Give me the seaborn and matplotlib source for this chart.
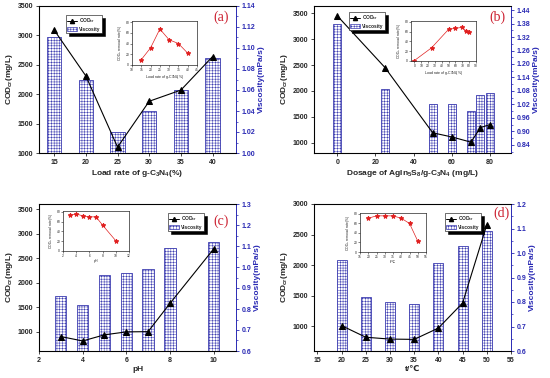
import matplotlib
matplotlib.use("Agg")
import matplotlib.pyplot as plt
import seaborn as sns
from matplotlib.lines import Line2D
from matplotlib.patches import Patch
from matplotlib.ticker import MultipleLocator, AutoMinorLocator, FormatStrFormatter

# (a) load rate of g-C3N4
load_rate = [15, 20, 25, 30, 35, 40]
cod_a = [3090, 2310, 1100, 1880, 2070, 2640]
visc_a = [1.11, 1.07, 1.02, 1.04, 1.06, 1.09]
removal_a = [10, 32, 67, 47, 40, 22]

# (b) dosage of AgIn5S8/g-C3N4
dosage = [0, 25, 50, 60, 70, 75, 80]
cod_b = [3450, 2450, 1190, 1110, 1010, 1290, 1350]
visc_b = [1.38, 1.09, 1.02, 1.02, 0.99, 1.06, 1.07]
removal_b = [1, 27, 65, 67, 69, 62, 60]

# (c) pH
ph = [3, 4, 5, 6, 7, 8, 10]
cod_c = [905, 815, 940, 1000, 1005, 1580, 2690]
visc_c = [0.86, 0.82, 0.96, 0.97, 0.99, 1.09, 1.12]
removal_c = [73, 76, 72, 70, 70, 53, 21]

# (d) temperature
temp = [20, 25, 30, 35, 40, 45, 50]
cod_d = [1010, 820, 790, 785, 970, 1380, 2660]
visc_d = [0.97, 0.82, 0.80, 0.79, 0.96, 1.03, 1.09]
removal_d = [71, 76, 76, 76, 71, 60, 23]

sns.set_style("ticks")
plt.rcParams["font.family"] = ["Liberation Sans", "DejaVu Sans"]
plt.rcParams["mathtext.default"] = "regular"
plt.rcParams["hatch.linewidth"] = 0.35
BLUE = "#2a2ab4"
EDGE = "#3b3bb0"
plt.rcParams["hatch.color"] = EDGE

W, H = 550, 378
fig = plt.figure(figsize=(5.5, 3.78), dpi=100)


def box(x0, y0, x1, y1):
    return [x0 / W, 1 - y1 / H, (x1 - x0) / W, (y1 - y0) / H]


def panel(rect, x, cod, visc, removal, bar_w, xlim, xticks, cod_lim, cod_ticks,
          v_lim, v_step, v_fmt, xlabel, inset_rect, inset_xlim, inset_step,
          inset_xlabel, leg_xy, tag, tag_xy):
    ax = fig.add_axes(box(*rect))
    ax2 = ax.twinx()
    ax.set_zorder(ax2.get_zorder() + 1)
    ax.patch.set_visible(False)

    sns.barplot(x=x, y=visc, native_scale=True, width=bar_w, color="white",
                edgecolor=EDGE, hatch="++++++", linewidth=0.6, errorbar=None,
                saturation=1, ax=ax2)
    sns.lineplot(x=x, y=cod, color="black", marker="^", markersize=4.5,
                 markeredgecolor="black", linewidth=0.8, ax=ax)

    ax.set_xlim(*xlim)
    ax.set_xticks(xticks)
    ax.set_ylim(*cod_lim)
    ax.set_yticks(cod_ticks)
    ax2.set_ylim(*v_lim)
    ax2.yaxis.set_major_locator(MultipleLocator(v_step))
    ax2.yaxis.set_minor_locator(AutoMinorLocator(2))
    ax2.yaxis.set_major_formatter(FormatStrFormatter(v_fmt))

    ax.tick_params(labelsize=5, width=0.6, length=2.5, direction="out", pad=1.5)
    for lab in ax.get_xticklabels() + ax.get_yticklabels():
        lab.set_fontweight("bold")
    ax2.tick_params(axis="y", labelsize=5, colors=BLUE, width=0.6, length=2.5, pad=1.5)
    ax2.tick_params(axis="y", which="minor", colors=BLUE, width=0.5, length=1.5)
    for lab in ax2.get_yticklabels():
        lab.set_fontweight("bold")

    for s in ax.spines.values():
        s.set_linewidth(0.7)
        s.set_color("black")
    ax.spines["right"].set_visible(False)
    ax2.spines["right"].set_color(BLUE)
    ax2.spines["right"].set_linewidth(0.7)

    ax.set_xlabel(xlabel, fontsize=6, fontweight="bold", labelpad=2)
    ax.set_ylabel("COD$_{cr}$(mg/L)", fontsize=6, fontweight="bold", labelpad=2)
    ax2.set_ylabel("Viscosity(mPa/s)", fontsize=6, fontweight="bold", color=BLUE,
                   labelpad=2)

    handles = [Line2D([], [], color="black", marker="^", markersize=3, lw=0.7),
               Patch(facecolor="white", edgecolor=EDGE, hatch="++++++", lw=0.5)]
    leg = ax.legend(handles, ["COD$_{cr}$", "Viscosity"], loc="upper left",
                    bbox_to_anchor=(leg_xy[0] / W, 1 - leg_xy[1] / H),
                    bbox_transform=fig.transFigure, fontsize=3.5, frameon=True,
                    fancybox=False, edgecolor="black", framealpha=1,
                    shadow={"color": "black", "alpha": 1}, handlelength=2,
                    handleheight=0.8, borderpad=0.3, labelspacing=0.3,
                    handletextpad=0.4, borderaxespad=0)
    leg.get_frame().set_linewidth(0.4)
    for t in leg.get_texts():
        t.set_fontweight("bold")

    fig.text(tag_xy[0] / W, 1 - tag_xy[1] / H, tag, color="#cc2030", fontsize=10,
             family=["Liberation Serif", "DejaVu Serif"], ha="center", va="center")

    ins = fig.add_axes(box(*inset_rect))
    ins.set_zorder(ax.get_zorder() + 1)
    sns.lineplot(x=x, y=removal, color="#e02020", marker="*", markersize=3.2,
                 markeredgecolor="#e02020", linewidth=0.5, ax=ins)
    ins.set_xlim(*inset_xlim)
    ins.xaxis.set_major_locator(MultipleLocator(inset_step))
    ins.set_ylim(0, 82)
    ins.set_yticks([0, 20, 40, 60, 80])
    ins.tick_params(labelsize=2.4, width=0.4, length=1.2, pad=0.8)
    for s in ins.spines.values():
        s.set_linewidth(0.5)
    ins.set_xlabel(inset_xlabel, fontsize=2.6, labelpad=1)
    ins.set_ylabel("COD$_{cr}$ removal rate(%)", fontsize=2.4, labelpad=1)


panel((39, 6, 236, 153), load_rate, cod_a, visc_a, removal_a, 0.45,
      (12.6, 43.7), load_rate, (1000, 3500), range(1000, 3501, 500),
      (1.0, 1.14), 0.02, "%.2f", "Load rate of g-C$_3$N$_4$(%)",
      (132, 21, 197, 65), (10, 45), 5, "Load rate of g-C$_3$N$_4$(%)",
      (66, 15), "(a)", (221, 17))

panel((314, 6, 511, 153), dosage, cod_b, visc_b, removal_b, 0.84,
      (-12.2, 91), [0, 20, 40, 60, 80], (800, 3640), range(1000, 3501, 500),
      (0.804, 1.458), 0.06, "%.2f", "Dosage of AgIn$_5$S$_8$/g-C$_3$N$_4$ (mg/L)",
      (411, 21, 476, 61), (-5, 90), 10, "Load rate of g-C$_3$N$_4$(%)",
      (349, 12), "(b)", (497, 17))

panel((39, 204, 236, 351), ph, cod_c, visc_c, removal_c, 0.52,
      (2, 11.03), [2, 4, 6, 8, 10], (610, 3610), range(1000, 3501, 500),
      (0.6, 1.3), 0.1, "%.1f", "pH",
      (63, 211, 129, 251), (2, 12), 2, "pH",
      (168, 213), "(c)", (221, 221))

panel((314, 204, 511, 351), temp, cod_d, visc_d, removal_d, 0.42,
      (14.3, 55), list(range(15, 56, 5)), (595, 3000), range(1000, 3001, 500),
      (0.6, 1.2), 0.1, "%.1f", "t/℃",
      (360, 213, 426, 252), (15, 55), 5, "t/℃",
      (445, 213), "(d)", (502, 213))

fig.savefig("out.png", dpi=100)
